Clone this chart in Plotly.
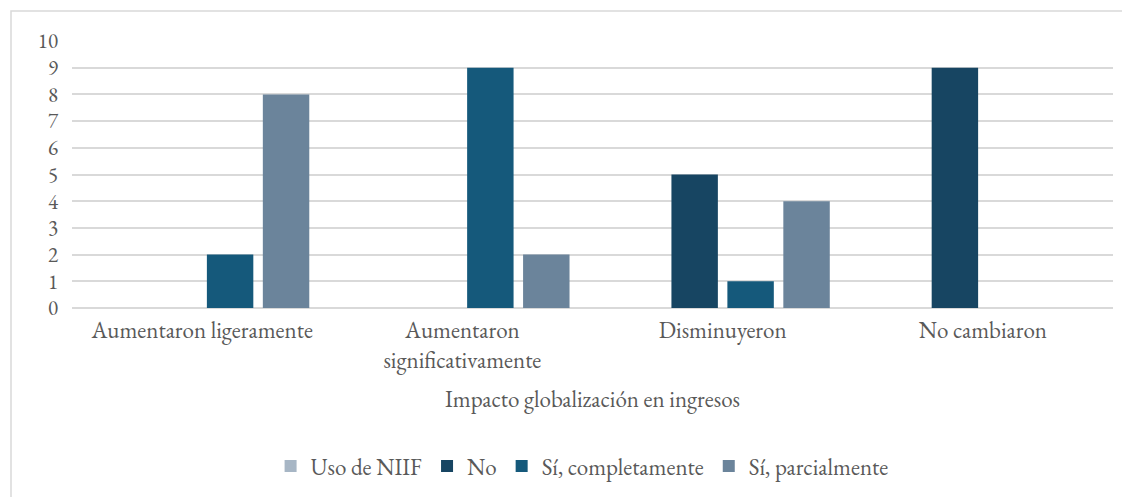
import plotly.graph_objects as go

# datos
categorias = ["Aumentaron ligeramente", "Aumentaron<br>significativamente", "Disminuyeron", "No cambiaron"]
uso_niif = [None, None, None, None]
no = [None, None, 5, 9]
si_completamente = [2, 9, 1, None]
si_parcialmente = [8, 2, 4, None]
ticks_y = [0, 1, 2, 3, 4, 5, 6, 7, 8, 9, 10]

fuente = "Garamond, 'EB Garamond', 'Liberation Serif', serif"
gris_texto = "#595959"
tam = 23

fig = go.Figure()

series = [
    ("Uso de NIIF", uso_niif, "#a7b6c5"),
    ("No", no, "#174562"),
    ("Sí, completamente", si_completamente, "#15597b"),
    ("Sí, parcialmente", si_parcialmente, "#6b849b"),
]
for nombre, valores, color in series:
    fig.add_trace(go.Bar(
        x=categorias,
        y=valores,
        name=nombre,
        marker=dict(color=color, line=dict(width=0)),
    ))

# borde exterior del gráfico (área del gráfico de Excel)
fig.add_shape(type="rect", xref="paper", yref="paper",
              x0=-0.0586, x1=1.08, y0=-0.75, y1=1.1124,
              line=dict(color="#d9d9d9", width=1.5), layer="below")

fig.update_layout(
    width=1130,
    height=497,
    margin=dict(l=64, r=25, t=33, b=197, autoexpand=False),
    paper_bgcolor="white",
    plot_bgcolor="white",
    barmode="group",
    bargap=0.14,
    bargroupgap=0.17,
    font=dict(family=fuente, size=tam, color=gris_texto),
    showlegend=True,
    legend=dict(orientation="h", x=0.49, xanchor="center", y=-0.592, yanchor="middle",
                font=dict(size=tam, color=gris_texto), itemwidth=30,
                traceorder="normal"),
    xaxis=dict(
        title=dict(text="Impacto globalización en ingresos", standoff=16,
                   font=dict(size=tam, color=gris_texto)),
        showgrid=False,
        showline=False,
        ticks="",
        ticklabelstandoff=6,
        tickfont=dict(size=tam, color=gris_texto),
    ),
    yaxis=dict(
        range=[0, 10],
        tickvals=ticks_y,
        showgrid=True,
        gridcolor="#d9d9d9",
        gridwidth=1.5,
        zeroline=True,
        zerolinecolor="#d9d9d9",
        zerolinewidth=1.5,
        showline=False,
        ticks="",
        ticklabelstandoff=13,
        tickfont=dict(size=21, color=gris_texto),
    ),
)

fig.write_html("out.html")
